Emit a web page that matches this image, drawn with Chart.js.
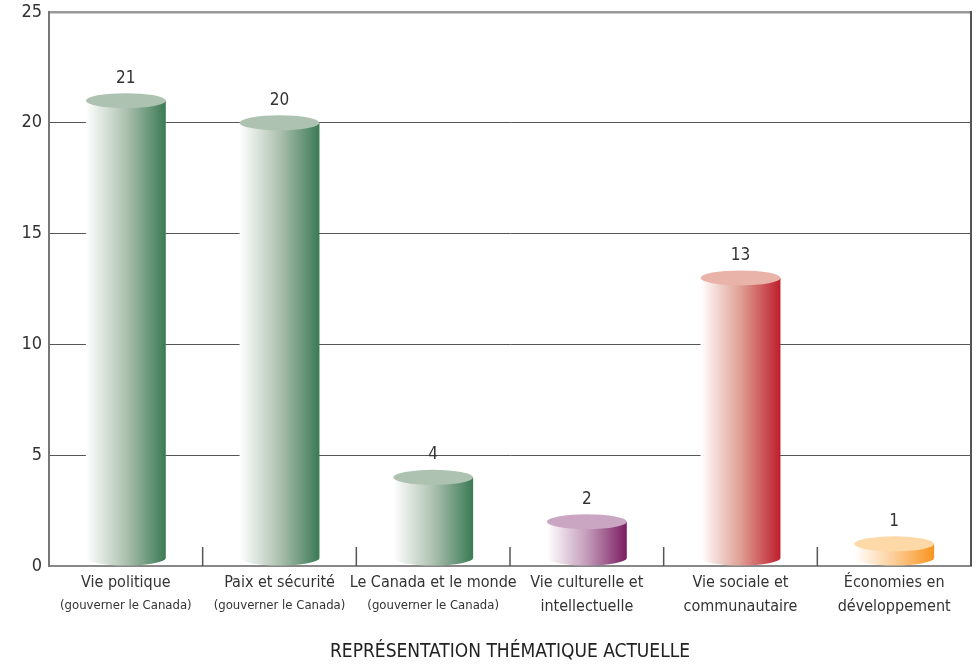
<!DOCTYPE html>
<html>
<head>
<meta charset="utf-8">
<script src="https://cdn.jsdelivr.net/npm/chart.js@4"></script>
<style>
  html, body { margin: 0; padding: 0; background: #fff; }
  #wrap { width: 976px; height: 665px; }
</style>
</head>
<body>
<div id="wrap"><canvas id="chart"></canvas></div>
<script>
const categories = [
  ['Vie politique'],
  ['Paix et sécurité'],
  ['Le Canada et le monde'],
  ['Vie culturelle et', 'intellectuelle'],
  ['Vie sociale et', 'communautaire'],
  ['Économies en', 'développement']
];
const subLabels = ['(gouverner le Canada)', '(gouverner le Canada)', '(gouverner le Canada)', '', '', ''];
const values = [21, 20, 4, 2, 13, 1];
const yTicks = [0, 5, 10, 15, 20, 25];
const axisTitle = 'REPRÉSENTATION THÉMATIQUE ACTUELLE';

// colours per bar: [light side, middle, dark side, top]
const palette = [
  ['#ffffff', '#adc1b0', '#3b7a55', '#adc2b0'],
  ['#ffffff', '#adc1b0', '#3b7a55', '#adc2b0'],
  ['#ffffff', '#adc1b0', '#3b7a55', '#adc2b0'],
  ['#ffffff', '#c49cba', '#7b1d61', '#caa6c3'],
  ['#ffffff', '#df9f94', '#be1e2d', '#e9b3a9'],
  ['#ffffff', '#fccd97', '#f7941d', '#fdd9a8']
];

const FONT = '"Liberation Sans Narrow", "DejaVu Sans Condensed", sans-serif';

// Draws the bars as cylinders, value labels, x ticks, sub labels and right border
const cylinderPlugin = {
  id: 'cylinders',
  afterDatasetsDraw(chart) {
    const ctx = chart.ctx;
    const meta = chart.getDatasetMeta(0);
    const area = chart.chartArea;
    const xScale = chart.scales.x;

    // small ticks between categories
    ctx.save();
    ctx.strokeStyle = '#555';
    ctx.lineWidth = 1.5;
    for (let i = 0; i < values.length - 1; i++) {
      const bx = (xScale.getPixelForValue(i) + xScale.getPixelForValue(i + 1)) / 2;
      ctx.beginPath();
      ctx.moveTo(bx, area.bottom);
      ctx.lineTo(bx, area.bottom - 19);
      ctx.stroke();
    }
    // right border
    ctx.strokeStyle = '#555';
    ctx.lineWidth = 2;
    ctx.beginPath();
    ctx.moveTo(area.right, area.top - 1);
    ctx.lineTo(area.right, area.bottom);
    ctx.stroke();
    ctx.restore();

    meta.data.forEach(function (el, i) {
      const p = el.getProps(['x', 'y', 'base', 'width'], true);
      const rx = p.width / 2;
      const ry = 7.5;
      const left = p.x - rx;
      const right = p.x + rx;
      const col = palette[i];

      ctx.save();
      const grad = ctx.createLinearGradient(left, 0, right, 0);
      grad.addColorStop(0, col[0]);
      grad.addColorStop(0.5, col[1]);
      grad.addColorStop(1, col[2]);
      ctx.fillStyle = grad;
      ctx.beginPath();
      ctx.moveTo(left, p.y);
      ctx.lineTo(left, p.base - ry);
      ctx.ellipse(p.x, p.base - ry, rx, ry, 0, Math.PI, 0, true);
      ctx.lineTo(right, p.y);
      ctx.closePath();
      ctx.fill();

      ctx.fillStyle = col[3];
      ctx.beginPath();
      ctx.ellipse(p.x, p.y, rx, ry, 0, 0, Math.PI * 2);
      ctx.fill();

      // value label
      ctx.fillStyle = '#333';
      ctx.font = '17px ' + FONT;
      ctx.textAlign = 'center';
      ctx.textBaseline = 'middle';
      ctx.fillText(String(values[i]), p.x, p.y - ry - 15);

      // sub label under category
      if (subLabels[i]) {
        ctx.font = '13px ' + FONT;
        ctx.fillText(subLabels[i], p.x, area.bottom + 40);
      }
      ctx.restore();
    });
  }
};

const ctx = document.getElementById('chart').getContext('2d');
const chart = new Chart(ctx, {
  type: 'bar',
  data: {
    labels: categories,
    datasets: [
      {
        data: values,
        backgroundColor: 'rgba(0,0,0,0)',
        borderWidth: 0,
        categoryPercentage: 1,
        barPercentage: 0.52,
      },
    ],
  },
  options: {
    responsive: true,
    maintainAspectRatio: false,
    animation: false,
    layout: { padding: { top: 0, right: 5, left: 0, bottom: 0 } },
    plugins: {
      legend: { display: false },
      tooltip: { enabled: false },
    },
    scales: {
      x: {
        grid: { display: false, drawTicks: false },
        border: { display: true, color: '#888', width: 2 },
        ticks: {
          color: '#333',
          padding: 5,
          maxRotation: 0,
          autoSkip: false,
          font: { family: FONT, size: 16, lineHeight: 1.5 },
        },
        title: {
          display: true,
          text: axisTitle,
          color: '#222',
          font: { family: FONT, size: 19 },
          padding: { top: 2, bottom: 2 },
        },
        afterFit: function (scale) { scale.height = 99; },
      },
      y: {
        min: 0,
        max: 25,
        afterBuildTicks: function (scale) {
          scale.ticks = yTicks.map(v => ({ value: v }));
        },
        grid: {
          drawTicks: false,
          color: function (c) {
            if (c.tick && c.tick.value === 25) return '#999';
            if (c.tick && c.tick.value === 0) return 'rgba(0,0,0,0)';
            return '#555';
          },
          lineWidth: function (c) {
            return c.tick && c.tick.value === 25 ? 2.5 : 1;
          },
        },
        border: { display: true, color: '#777', width: 2 },
        ticks: {
          color: '#333',
          padding: 7,
          font: { family: FONT, size: 18, lineHeight: 1 },
        },
        afterFit: function (scale) {
          scale.width = 49;
          scale.paddingTop = 12;
        },
      },
    },
  },
  plugins: [cylinderPlugin],
});
</script>
</body>
</html>
